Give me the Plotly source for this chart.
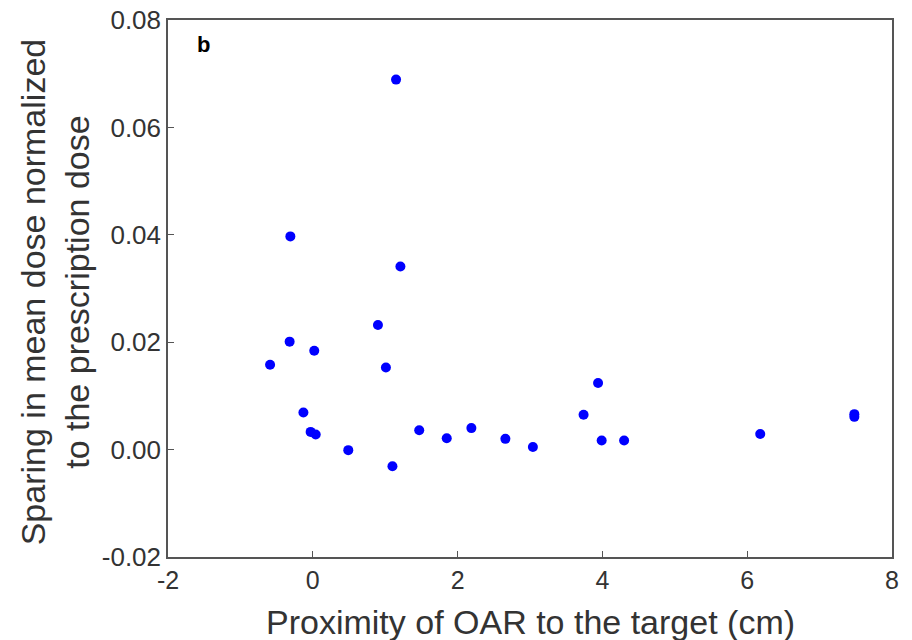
import plotly.graph_objects as go

proximity_cm = [-0.59, -0.32, -0.31, -0.13, -0.03, 0.02, 0.04, 0.49, 0.90, 1.01, 1.10, 1.15, 1.21,
                1.47, 1.85, 2.19, 2.66, 3.04, 3.74, 3.94, 3.99, 4.30, 6.18, 7.48, 7.48]
sparing = [0.0158, 0.0201, 0.0397, 0.0069, 0.0033, 0.0184, 0.0028, -0.0001, 0.0232, 0.0153, -0.0031, 0.0689, 0.0341,
           0.0036, 0.0021, 0.0040, 0.0020, 0.0005, 0.0065, 0.0124, 0.0017, 0.0017, 0.0029, 0.0066, 0.0061]

x_ticks = [-2, 0, 2, 4, 6, 8]
y_ticks = [-0.02, 0.00, 0.02, 0.04, 0.06, 0.08]
y_tick_labels = ["-0.02", "0.00", "0.02", "0.04", "0.06", "0.08"]

x_title = "Proximity of OAR to the target (cm)"
y_title = "Sparing in mean dose normalized<br>to the prescription dose"
panel_label = "b"

FONT = "Liberation Sans, Arial, sans-serif"
AXIS_COLOR = "#555555"
TEXT_COLOR = "#333333"

fig = go.Figure()
fig.add_trace(go.Scatter(
    x=proximity_cm, y=sparing, mode="markers",
    marker=dict(color="#0000FF", size=10, line=dict(width=0)),
    showlegend=False,
))

fig.update_layout(
    width=912, height=640,
    margin=dict(l=168, r=20, t=20, b=83),
    paper_bgcolor="white", plot_bgcolor="white",
    font=dict(family=FONT, color=TEXT_COLOR),
)

fig.update_xaxes(
    range=[-2, 8], tickvals=x_ticks, ticktext=[str(v) for v in x_ticks],
    showgrid=False, zeroline=False, automargin=False,
    showline=True, linecolor=AXIS_COLOR, linewidth=1.5, mirror=True,
    ticks="inside", ticklen=6, tickwidth=1, tickcolor=AXIS_COLOR,
    tickfont=dict(size=25, family=FONT, color=TEXT_COLOR),
)
fig.update_yaxes(
    range=[-0.02, 0.08], tickvals=y_ticks, ticktext=y_tick_labels,
    showgrid=False, zeroline=False, automargin=False,
    showline=True, linecolor=AXIS_COLOR, linewidth=1.5, mirror=True,
    ticks="inside", ticklen=6, tickwidth=1, tickcolor=AXIS_COLOR,
    tickfont=dict(size=26, family=FONT, color=TEXT_COLOR),
)

fig.add_annotation(
    x=0.501, y=-0.121, xref="paper", yref="paper",
    text=x_title, showarrow=False, xanchor="center", yanchor="middle",
    font=dict(size=34, family=FONT, color=TEXT_COLOR),
)
fig.add_annotation(
    x=-0.156, y=0.493, xref="paper", yref="paper",
    text=y_title, showarrow=False, xanchor="center", yanchor="middle",
    textangle=-90,
    font=dict(size=34, family=FONT, color=TEXT_COLOR),
)
fig.add_annotation(
    x=0.037, y=0.955, xref="paper", yref="paper",
    text="<b>" + panel_label + "</b>", showarrow=False, xanchor="left", yanchor="middle",
    font=dict(size=22, family=FONT, color="black"),
)

fig.write_html("out.html")
